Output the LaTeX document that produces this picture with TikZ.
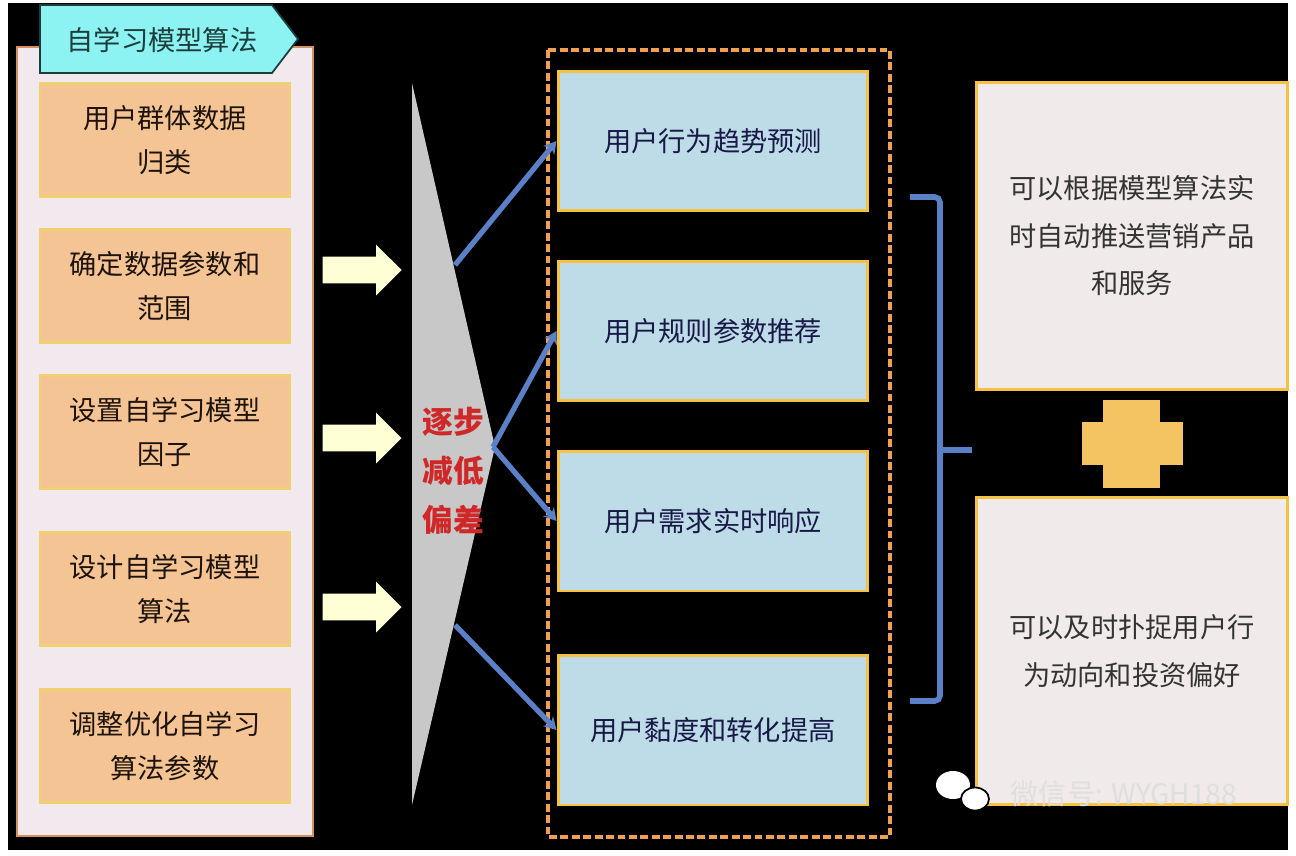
\documentclass[tikz,border=0pt]{standalone}
\usepackage{fontspec}
\usepackage{tikz}
\usetikzlibrary{shapes.arrows,arrows.meta}
\newfontfamily\zh{Noto Sans CJK SC}
\definecolor{panel}{HTML}{F2E9EE}
\definecolor{pline}{HTML}{D89060}
\definecolor{tabfill}{HTML}{8CF2F2}
\definecolor{tabline}{HTML}{1E3C3C}
\definecolor{lfill}{HTML}{F4C494}
\definecolor{lline}{HTML}{F0D070}
\definecolor{mfill}{HTML}{BDDCE8}
\definecolor{rfill}{HTML}{F0EAEA}
\definecolor{yline}{HTML}{F5C242}
\definecolor{arrfill}{HTML}{FFFFD6}
\definecolor{wedge}{HTML}{C8C8C8}
\definecolor{redtxt}{HTML}{D02828}
\definecolor{lblue}{HTML}{5A80C8}
\definecolor{dashc}{HTML}{F0A050}
\definecolor{plusc}{HTML}{F5C462}

\begin{document}
\begin{tikzpicture}[x=0.02cm,y=-0.02cm,
    txt/.style={font=\zh\fontsize{15.5}{25}\selectfont, align=center},
    lbox/.style={txt, text=black!85!brown, fill=lfill, draw=lline, line width=1.2pt,
        minimum width=5cm, minimum height=2.26cm},
    mbox/.style={txt, text=black!80!blue!90, fill=mfill, draw=yline, line width=1.7pt,
        minimum width=6.2cm, minimum height=2.8cm},
    rbox/.style={txt, font=\zh\fontsize{15.5}{27}\selectfont, text=black!80, fill=rfill,
        draw=yline, line width=1.7pt, minimum width=6.24cm, minimum height=6.16cm},
    blk/.style={single arrow, fill=arrfill, inner xsep=0pt, inner ysep=0.26cm,
        single arrow head extend=0.24cm, minimum height=1.58cm, anchor=tip},
    conn/.style={draw=lblue, line width=3pt, -{Stealth[length=7pt,width=8pt]}},
    brace/.style={draw=lblue, line width=3.2pt, rounded corners=3pt}
]
    \useasboundingbox (0,0) rectangle (1296,856);
    \fill[black] (8,3) rectangle (1288,850);

    % left panel
    \draw[fill=panel, draw=pline, line width=1.2pt] (17,47) rectangle (313,836);
    \filldraw[fill=tabfill, draw=tabline, line width=1pt]
        (40,5) -- (272,5) -- (298,39) -- (272,73) -- (40,73) -- cycle;
    \node[txt, text=tabline] (T) at (162,40) {自学习模型算法};

    \node[lbox] (L1) at (165,140) {用户群体数据\\归类};
    \node[lbox] (L2) at (165,286) {确定数据参数和\\范围};
    \node[lbox] (L3) at (165,432) {设置自学习模型\\因子};
    \node[lbox] (L4) at (165,589) {设计自学习模型\\算法};
    \node[lbox] (L5) at (165,746) {调整优化自学习\\算法参数};

    % block arrows
    \node[blk] (A1) at (402,270) {};
    \node[blk] (A2) at (402,438) {};
    \node[blk] (A3) at (402,607) {};

    % wedge
    \fill[wedge] (412,83) -- (495,447) -- (412,805) -- cycle;
    \node[font=\zh\bfseries\fontsize{17.5}{28}\selectfont, text=redtxt, align=center]
        (E) at (453,471) {逐步\\减低\\偏差};
    \coordinate (G1) at (455,265);
    \coordinate (G2) at (493,447);
    \coordinate (G3) at (455,625);

    % middle column
    \draw[dashc, line width=2.2pt, dash pattern=on 4.5pt off 2pt] (548,50) rectangle (890,837);
    \node[mbox] (M1) at (713,141) {用户行为趋势预测};
    \node[mbox] (M2) at (713,331) {用户规则参数推荐};
    \node[mbox] (M3) at (713,521) {用户需求实时响应};
    \node[mbox, minimum height=3cm] (M4) at (713,730) {用户黏度和转化提高};

    \draw[conn] (G1) -- (M1.west);
    \draw[conn] (G2) -- (M2.west);
    \draw[conn] (G2) -- (M3.west);
    \draw[conn] (G3) -- (M4.west);

    % brace
    \draw[brace] (910,197) -- (940,197) -- (940,701) -- (910,701);
    \draw[brace] (940,450) -- (972,450);

    % right column
    \node[rbox] (R1) at (1132,236) {可以根据模型算法实\\时自动推送营销产品\\和服务};
    \node[rbox] (R2) at (1132,651) {可以及时扑捉用户行\\为动向和投资偏好};

    \fill[plusc] (1082,422) rectangle (1183,465);
    \fill[plusc] (1103,400) rectangle (1160,488);

    % watermark
    \fill[white] (953,785) ellipse [x radius=0.34cm, y radius=0.28cm];
    \filldraw[fill=white, draw=black, line width=1pt] (975,799) ellipse [x radius=0.28cm, y radius=0.23cm];
    \node[font=\zh\fontsize{16}{16}\selectfont, text=white!75!gray] (W) at (1124,794) {微信号: WYGH188};
\end{tikzpicture}
\end{document}
